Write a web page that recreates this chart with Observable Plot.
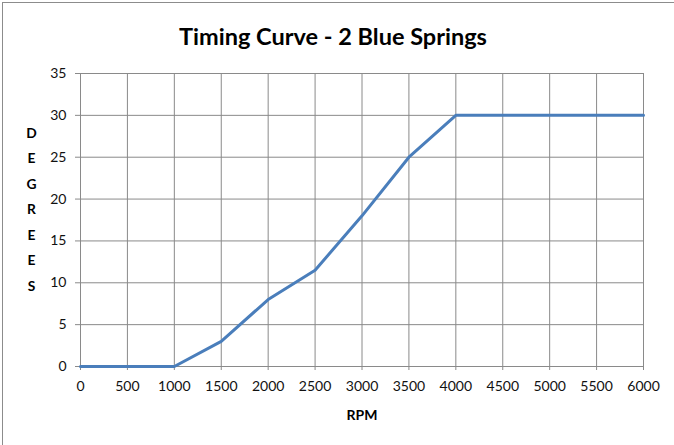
<!DOCTYPE html>
<html><head><meta charset="utf-8">
<script src="https://cdn.jsdelivr.net/npm/d3@7"></script>
<script src="https://cdn.jsdelivr.net/npm/@observablehq/plot@0.6"></script>
<style>
html,body{margin:0;padding:0;background:#fff;overflow:hidden;}
#wrap{position:relative;width:674px;height:445px;overflow:hidden;}
#border{position:absolute;left:2px;top:2px;width:700px;height:500px;border:1px solid #8c8c8c;box-sizing:border-box;}
#chart{position:absolute;left:0;top:0;}
</style></head><body>
<div id="wrap"><div id="border"></div><div id="chart"></div></div>
<script>
const title = "Timing Curve - 2 Blue Springs";
const xLabel = "RPM";
const yLabel = "DEGREES";
const rpm = [0, 500, 1000, 1500, 2000, 2500, 3000, 3500, 4000, 4500, 5000, 5500, 6000];
const degrees = [0, 0, 0, 3, 8, 11.5, 18, 25, 30, 30, 30, 30, 30];
const xTicks = [0, 500, 1000, 1500, 2000, 2500, 3000, 3500, 4000, 4500, 5000, 5500, 6000];
const yTicks = [0, 5, 10, 15, 20, 25, 30, 35];

const data = rpm.map((r, i) => ({rpm: r, deg: degrees[i]}));
const grid = "#8a8a8a";

const chart = Plot.plot({
  width: 674, height: 445,
  marginLeft: 80, marginRight: 31, marginTop: 73, marginBottom: 79,
  x: {domain: [0, 6000], ticks: xTicks},
  y: {domain: [0, 35], ticks: yTicks},
  style: {fontFamily: "Lato, 'Open Sans', sans-serif", fontSize: "14px", background: "transparent", color: "#111"},
  marks: [
    Plot.gridX(xTicks, {stroke: grid, strokeOpacity: 1}),
    Plot.gridY(yTicks, {stroke: grid, strokeOpacity: 1}),
    Plot.axisX(xTicks, {tickSize: 4, tickPadding: 11, stroke: grid, fill: "#111", label: null, fontSize: 14, tickFormat: d => String(d)}),
    Plot.axisY(yTicks, {tickSize: 5, tickPadding: 9, stroke: grid, fill: "#111", label: null, fontSize: 14, tickFormat: d => String(d)}),
    Plot.line(data, {x: "rpm", y: "deg", stroke: "#4a7ebb", strokeWidth: 3, strokeLinejoin: "round"}),
    Plot.text([title], {frameAnchor: "top", dx: -29, dy: -36, lineAnchor: "middle", fontWeight: "bold", fontSize: 23.5, fill: "#000"}),
    Plot.text([xLabel], {frameAnchor: "bottom", dy: 49, lineAnchor: "middle", fontWeight: "bold", fontSize: 14, fill: "#000"}),
    Plot.text([yLabel.split("").join("\n")], {frameAnchor: "left", dx: -49, dy: -14, lineAnchor: "middle", textAnchor: "middle", lineHeight: 1.85, fontWeight: "bold", fontSize: 13.8, fill: "#000"})
  ]
});
document.getElementById("chart").appendChild(chart);
</script>
</body></html>
